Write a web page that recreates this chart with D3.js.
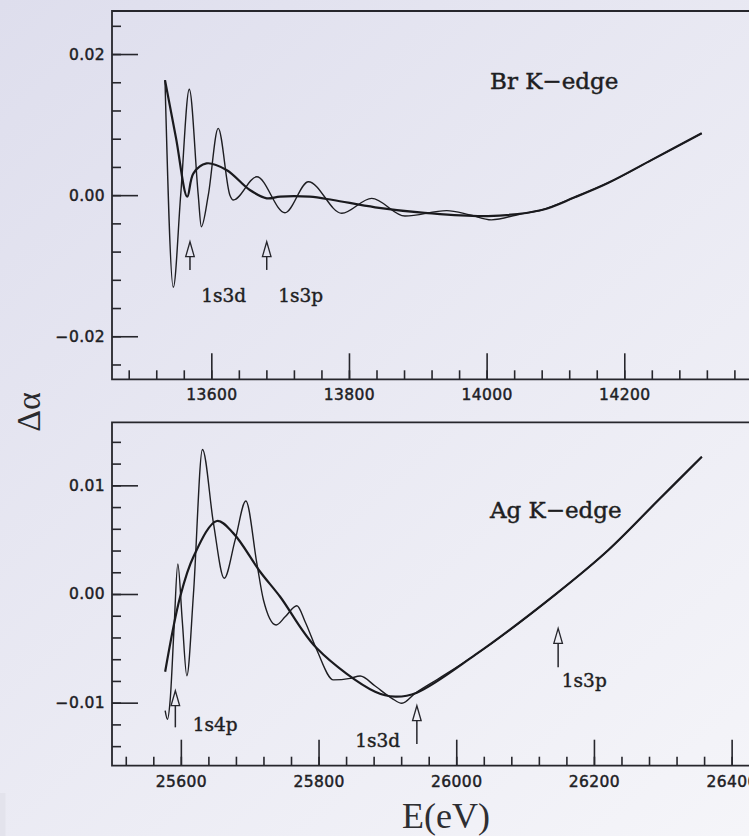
<!DOCTYPE html>
<html><head><meta charset="utf-8">
<script src="https://cdn.jsdelivr.net/npm/d3@7"></script>
<style>html,body{margin:0;padding:0;background:#e9e9f2;} svg{display:block;}</style>
</head><body><svg id="c" width="749" height="836"></svg>
<script>
// ---------- Br K-edge (top panel) ----------
const brExpE = [13532.7,13544.8,13555.5,13568,13581,13585.5,13595.6,13610,13627,13632,13666,13707,13741,13789.5,13833,13881.4,13942,13976,14007,14048,14080,14128,14177,14240,14312.5];
const brExpV = [0.0163,-0.01306,0,0.0150,0,-0.00447,0,0.00947,0,-0.00069,0.0026,-0.0025,0.0019,-0.00257,-0.00045,-0.00296,-0.0022,-0.0028,-0.0035,-0.0027,-0.0021,-0.0003,0.00176,0.0050,0.00877];
const brFitE = [13532.7,13548.7,13565,13574,13593,13622,13656,13680.5,13700,13743,13777,13838,13910,14002,14080,14128,14177,14240,14312.5];
const brFitV = [0.0163,0.0081,-0.00022,0.0031,0.0045,0.00357,0.00073,-0.00045,-0.0002,-0.00022,-0.00069,-0.00172,-0.0025,-0.00296,-0.0021,-0.0003,0.00176,0.0050,0.00877];
const brXTicks = [13600,13800,14000,14200];
const brYTicks = [-0.02,0,0.02];
const brArrowE = [13569,13680.5];
const brArrowTip = [-0.0066,-0.0066];
const brArrowTail = [-0.0106,-0.0106];
const brLabels = ["1s3d","1s3p"];
const brLabelE = [13585.3,13697.3];
const brLabelV = [-0.0151,-0.0151];
const brTitle = "Br K\u2212edge";

// ---------- Ag K-edge (bottom panel) ----------
const agExpE = [25577.2,25580.5,25584.5,25590,25595.6,25602,25608.7,25618.3,25631.4,25647.4,25663,25679,25694.4,25710.4,25720,25738.4,25751.5,25768.5,25780.5,25797.5,25821.6,25845.9,25860.4,25882.2,25906.5,25921,25940.3,25974,26027.4,26146,26221,26293.7,26356.7];
const agExpV = [-0.01074,-0.01153,-0.00975,-0.0033,0.00276,-0.0024,-0.00752,0,0.0133,0.0065,0.00145,0.005,0.00856,0.00282,-0.00055,-0.00285,-0.0021,-0.00108,-0.00255,-0.00515,-0.0079,-0.00776,-0.00755,-0.00847,-0.0096,-0.01006,-0.00914,-0.0078,-0.00561,0.00006,0.00405,0.00865,0.01263];
const agFitE = [25577.2,25599,25618.3,25652.3,25676.4,25715.2,25744.2,25797.5,25882.2,25911.3,25942.8,26027.4,26146,26221,26293.7,26356.7];
const agFitV = [-0.00715,-0.00025,0.00343,0.00672,0.00558,0.00205,-0.00025,-0.005,-0.009,-0.00945,-0.00908,-0.00561,0.00006,0.00405,0.00865,0.01263];
const agXTicks = [25600,25800,26000,26200,26400];
const agYTicks = [-0.01,0,0.01];
const agArrowE = [25592,25942.8,26148];
const agArrowTip = [-0.0089,-0.01028,-0.00316];
const agArrowTail = [-0.01227,-0.0138,-0.00675];
const agLabels = ["1s4p","1s3d","1s3p"];
const agLabelE = [25617.4,25918.5,26153.4];
const agLabelV = [-0.01261,-0.01405,-0.00859];
const agLabelAnchor = ["start","end","start"];
const agTitle = "Ag K\u2212edge";

const W = 749, H = 836;
const svg = d3.select("#c");
const defs = svg.append("defs");
const grad = defs.append("linearGradient").attr("id","bg")
  .attr("gradientUnits","userSpaceOnUse").attr("x1",0).attr("y1",0).attr("x2",W).attr("y2",H);
grad.append("stop").attr("offset","0").attr("stop-color","#dedeed");
grad.append("stop").attr("offset","1").attr("stop-color","#f5f5f9");
svg.append("rect").attr("width",W).attr("height",H).attr("fill","url(#bg)");
svg.append("rect").attr("x",0).attr("y",793).attr("width",5.5).attr("height",H-793).attr("fill","#e3e3ec");

const INK = "#26262c";
const LEFT = 112, RIGHT = 760;

function panel(p){
  const x = d3.scaleLinear().domain(p.xDom).range([LEFT, RIGHT]);
  const y = d3.scaleLinear().domain(p.yDom).range([p.bottom, p.top]);
  const g = svg.append("g");
  const styleAxis = s => {
    s.select(".domain").remove();
    s.selectAll("line").attr("stroke", INK).attr("stroke-width", 1.6);
    s.selectAll("text").attr("fill","#202024").attr("stroke","#202024").attr("stroke-width",0.45)
      .style("font-family","'DejaVu Sans', sans-serif")
      .style("font-size","15.5px").style("letter-spacing","0.4px");
  };
  g.append("g").attr("transform",`translate(${LEFT},0)`)
    .call(d3.axisLeft(y).tickValues(p.yMinor).tickSize(-9).tickFormat("")).call(styleAxis);
  g.append("g").attr("transform",`translate(${LEFT},0)`)
    .call(d3.axisLeft(y).tickValues(p.yMajor).tickSize(-26).tickPadding(7).tickFormat(d3.format(".2f"))).call(styleAxis);
  g.append("g").attr("transform",`translate(0,${p.bottom})`)
    .call(d3.axisBottom(x).tickValues(p.xMinor).tickSize(-9).tickFormat("")).call(styleAxis);
  g.append("g").attr("transform",`translate(0,${p.bottom})`)
    .call(d3.axisBottom(x).tickValues(p.xMajor).tickSize(-26).tickPadding(10).tickFormat(d3.format("d"))).call(styleAxis);
  // frame
  g.append("path").attr("d",`M${RIGHT+5},${p.top}H${LEFT}V${p.bottom}H${RIGHT+5}`)
    .attr("fill","none").attr("stroke",INK).attr("stroke-width",1.8);

  const lineExp = d3.line().x(d=>x(d[0])).y(d=>y(d[1])).curve(d3.curveMonotoneX);
  const lineFit = d3.line().x(d=>x(d[0])).y(d=>y(d[1])).curve(d3.curveCatmullRom.alpha(0.5));
  g.append("path").datum(d3.zip(p.expE,p.expV)).attr("d",lineExp)
    .attr("fill","none").attr("stroke","#1e1e22").attr("stroke-width",1.4).attr("stroke-linejoin","round");
  g.append("path").datum(d3.zip(p.fitE,p.fitV)).attr("d",lineFit)
    .attr("fill","none").attr("stroke","#1a1a1e").attr("stroke-width",2.2).attr("stroke-linejoin","round");

  p.arrowE.forEach((e,i)=>{
    const xp = x(e), yt = y(p.arrowTip[i]), yb = y(p.arrowTail[i]);
    g.append("path").attr("d",`M${xp},${yt}L${xp-4.3},${yt+15}L${xp+4.3},${yt+15}Z`)
      .attr("fill","none").attr("stroke",INK).attr("stroke-width",1.3).attr("stroke-linejoin","miter");
    g.append("path").attr("d",`M${xp},${yt+15}V${yb}`).attr("stroke",INK).attr("stroke-width",1.5);
  });
  p.labels.forEach((t,i)=>{
    g.append("text").attr("x",x(p.labelE[i])).attr("y",y(p.labelV[i]))
      .attr("text-anchor",p.anchor ? p.anchor[i] : "start")
      .attr("stroke","#1e1e22").attr("stroke-width",0.4)
      .style("font-family","'DejaVu Serif', serif").style("font-size","18.5px").attr("fill","#1e1e22").text(t);
  });
  g.append("text").attr("x",x(p.titleE)).attr("y",y(p.titleV))
    .attr("stroke","#1e1e22").attr("stroke-width",0.45)
    .style("font-family","'DejaVu Serif', serif").style("font-size","23px").attr("fill","#1e1e22").text(p.title);
}

panel({
  xDom:[13455.7,14397.2], yDom:[-0.0261,0.0261], top:11, bottom:379.3,
  xMajor:brXTicks, xMinor:d3.range(13480,14400,40), yMajor:brYTicks, yMinor:d3.range(-0.024,0.0241,0.004),
  expE:brExpE, expV:brExpV, fitE:brFitE, fitV:brFitV,
  arrowE:brArrowE, arrowTip:brArrowTip, arrowTail:brArrowTail,
  labels:brLabels, labelE:brLabelE, labelV:brLabelV,
  title:brTitle, titleE:14004.9, titleV:0.0150
});
panel({
  xDom:[25500,26441.2], yDom:[-0.0158,0.0158], top:422.3, bottom:765.7,
  xMajor:agXTicks, xMinor:d3.range(25520,26440,40), yMajor:agYTicks, yMinor:d3.range(-0.014,0.01401,0.002),
  expE:agExpE, expV:agExpV, fitE:agFitE, fitV:agFitV,
  arrowE:agArrowE, arrowTip:agArrowTip, arrowTail:agArrowTail,
  labels:agLabels, labelE:agLabelE, labelV:agLabelV, anchor:agLabelAnchor,
  title:agTitle, titleE:26048.9, titleV:0.00697
});

svg.append("text").attr("transform","translate(40,412) rotate(-90)").attr("text-anchor","middle")
  .style("font-family","'Liberation Serif', serif").style("font-size","34px").attr("fill","#2a2a2e").text("\u0394\u03b1");
svg.append("text").attr("x",446).attr("y",828).attr("text-anchor","middle")
  .style("font-family","'Liberation Serif', serif").style("font-size","36px").attr("fill","#2e2e32").text("E(eV)");
</script></body></html>
